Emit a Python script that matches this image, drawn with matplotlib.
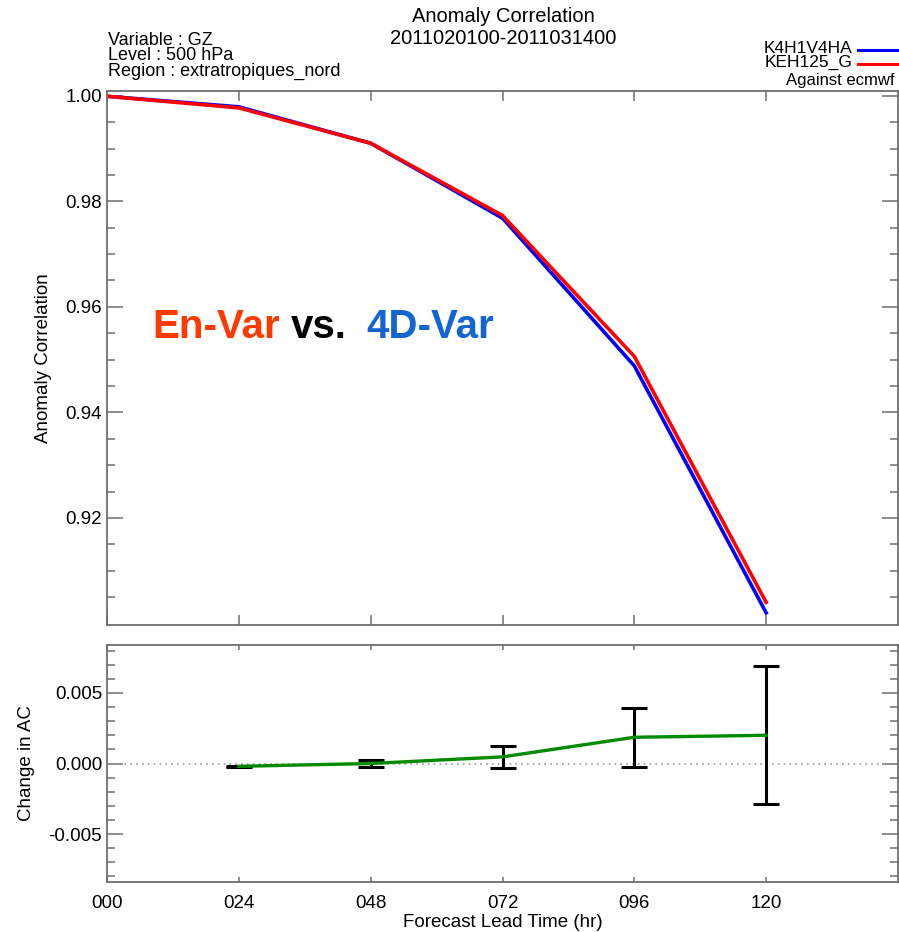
import numpy as np
import matplotlib
matplotlib.use('Agg')
import matplotlib.pyplot as plt
from matplotlib.lines import Line2D
from matplotlib.ticker import FixedLocator, MultipleLocator, FormatStrFormatter

plt.rcParams['font.family'] = ['Liberation Sans', 'DejaVu Sans']
plt.rcParams['axes.unicode_minus'] = False

# data
lead_hours = [0, 24, 48, 72, 96, 120]
lead_labels = ['000', '024', '048', '072', '096', '120']
ac_k4h1v4ha = [0.9999, 0.9979, 0.9910, 0.9768, 0.9488, 0.9020]
ac_keh125_g = [0.9999, 0.9977, 0.9910, 0.9773, 0.9506, 0.9040]

diff_hours = [24, 48, 72, 96, 120]
diff_ac = [-0.0002, 0.0000, 0.00047, 0.00186, 0.0020]
diff_err = [0.00003, 0.00024, 0.00077, 0.0021, 0.0049]

header_lines = ['Variable : GZ', 'Level : 500 hPa', 'Region : extratropiques_nord']
legend_names = ['K4H1V4HA', 'KEH125_G']

W, H = 899, 932
SPINE = '#6e6e6e'


def fx(px):
    return px / W


def fy(py):
    return 1 - py / H


fig = plt.figure(figsize=(W / 100, H / 100), dpi=100)
ax1 = fig.add_axes([fx(107), fy(625), fx(898) - fx(107), fy(91) - fy(625)])
ax2 = fig.add_axes([fx(107), fy(882), fx(898) - fx(107), fy(645) - fy(882)])

# top panel
ax1.plot(lead_hours, ac_k4h1v4ha, color='#0000ff', lw=2.6)
ax1.plot(lead_hours, ac_keh125_g, color='#ff0000', lw=2.6)
ax1.set_xlim(0, 144)
ax1.set_ylim(0.8997, 1.0009)
ax1.yaxis.set_major_locator(FixedLocator([0.92, 0.94, 0.96, 0.98, 1.00]))
ax1.yaxis.set_minor_locator(FixedLocator(np.arange(0.905, 1.0, 0.005)))
ax1.yaxis.set_major_formatter(FormatStrFormatter('%.2f'))
ax1.set_xticks(lead_hours)
ax1.tick_params(axis='x', which='major', direction='in', length=7.5, width=1.1,
                color=SPINE, top=True, bottom=True, labelbottom=False)
ax1.set_ylabel('Anomaly Correlation', fontsize=13.5, labelpad=10)

# bottom panel
ax2.axhline(0, color='#9a9a9a', lw=1.2, ls=(0, (1, 2.5)))
ax2.errorbar(diff_hours, diff_ac, yerr=diff_err, fmt='none', ecolor='black',
             elinewidth=2.2, capsize=9.4, capthick=2.2)
ax2.plot(diff_hours, diff_ac, color='#008a00', lw=2.4)
ax2.set_xlim(0, 144)
ax2.set_ylim(-0.0084, 0.0084)
ax2.yaxis.set_major_locator(MultipleLocator(0.005))
ax2.yaxis.set_minor_locator(MultipleLocator(0.001))
ax2.yaxis.set_major_formatter(FormatStrFormatter('%.3f'))
ax2.set_xticks(lead_hours)
ax2.set_xticklabels(lead_labels)
ax2.tick_params(axis='x', which='major', direction='in', length=3.5, width=1.1,
                color=SPINE, top=True, bottom=True, pad=9, labelsize=13.5)
ax2.set_ylabel('Change in AC', fontsize=13.5, labelpad=10)
ax2.set_xlabel('Forecast Lead Time (hr)', fontsize=13.5, labelpad=2)

for ax in (ax1, ax2):
    for sp in ax.spines.values():
        sp.set_color(SPINE)
        sp.set_linewidth(1.3)
    ax.tick_params(axis='y', which='major', direction='in', length=11.5, width=1.1,
                   color=SPINE, left=True, right=True, pad=3.5, labelsize=13.5)
    ax.tick_params(axis='y', which='minor', direction='in', length=5.8, width=1.1,
                   color=SPINE, left=True, right=True)

# header texts
fig.text(fx(503), fy(16), 'Anomaly Correlation', ha='center', va='center', fontsize=14.5)
fig.text(fx(503), fy(39), '2011020100-2011031400', ha='center', va='center', fontsize=14.5)
fig.text(fx(108), fy(32), '\n'.join(header_lines), ha='left', va='top',
         fontsize=13, linespacing=0.87)

# legend
fig.text(fx(852), fy(41), '\n'.join(legend_names), ha='right', va='top',
         fontsize=12.5, linespacing=0.92, multialignment='right')
fig.text(fx(894), fy(81), 'Against ecmwf', ha='right', va='center', fontsize=12)
fig.add_artist(Line2D([fx(858), fx(898)], [fy(50), fy(50)], color='#0000ff', lw=2.2))
fig.add_artist(Line2D([fx(858), fx(898)], [fy(64), fy(64)], color='#ff0000', lw=2.2))

# annotation
fig.text(fx(152), fy(338), 'En-Var', ha='left', va='baseline', fontsize=29,
         fontweight='bold', color='#ff3a00')
fig.text(fx(291), fy(338), 'vs.', ha='left', va='baseline', fontsize=29,
         fontweight='bold', color='black')
fig.text(fx(366), fy(338), '4D-Var', ha='left', va='baseline', fontsize=29,
         fontweight='bold', color='#1465d2')

fig.savefig('out.png', dpi=100)
